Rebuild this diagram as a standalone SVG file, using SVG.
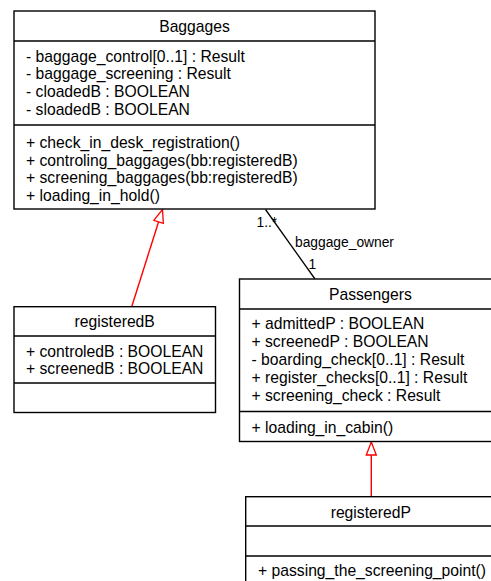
<svg xmlns="http://www.w3.org/2000/svg" width="491" height="581" viewBox="0 0 491 581">
<style>
text{font-family:"Liberation Sans",Arial,sans-serif;font-size:15.7px;fill:#000}
.t{text-anchor:middle}
.lbl{font-size:13.8px}
.box{fill:#fff;stroke:#000;stroke-width:1.4}
.sep{stroke:#000;stroke-width:1.4}
.assoc{stroke:#000;stroke-width:1.3;fill:none}
.gen{stroke:#f00;stroke-width:1.4;fill:none}
</style>
<defs>
<marker id="tri" markerUnits="userSpaceOnUse" viewBox="-1 -1 15 12" refX="13" refY="5" markerWidth="15" markerHeight="12" orient="auto">
<path d="M0,0 L13,5 L0,10 Z" fill="#fff" stroke="#f00" stroke-width="1.3"/>
</marker>
</defs>
<rect width="491" height="581" fill="#fff"/>
<g id="connectors">
<line class="assoc" x1="265.5" y1="209.5" x2="315" y2="279"/>
<text class="lbl" x="256.5" y="227">1..*</text>
<text class="lbl" x="295" y="247">baggage_owner</text>
<text class="lbl" x="308.5" y="268.5">1</text>
<line class="gen" x1="131.7" y1="306.7" x2="162.5" y2="209.5" marker-end="url(#tri)"/>
<line class="gen" x1="371.3" y1="496.7" x2="371.3" y2="442" marker-end="url(#tri)"/>
</g>
<g id="Baggages">
<rect class="box" x="14" y="11" width="361" height="198"/>
<line class="sep" x1="14" y1="41" x2="375" y2="41"/>
<line class="sep" x1="14" y1="125" x2="375" y2="125"/>
<text class="t" x="194.5" y="32">Baggages</text>
<text x="26" y="61.5">- baggage_control[0..1] : Result</text>
<text x="26" y="79.2">- baggage_screening : Result</text>
<text x="26" y="96.9">- cloadedB : BOOLEAN</text>
<text x="26" y="114.6">- sloadedB : BOOLEAN</text>
<text x="26" y="148">+ check_in_desk_registration()</text>
<text x="26" y="165.7">+ controling_baggages(bb:registeredB)</text>
<text x="26" y="183.4">+ screening_baggages(bb:registeredB)</text>
<text x="26" y="201">+ loading_in_hold()</text>
</g>
<g id="Passengers">
<rect class="box" x="239.5" y="279" width="262" height="162.5"/>
<line class="sep" x1="239.5" y1="309" x2="501.5" y2="309"/>
<line class="sep" x1="239.5" y1="411.5" x2="501.5" y2="411.5"/>
<text class="t" x="370.4" y="300">Passengers</text>
<text x="251.5" y="329.3">+ admittedP : BOOLEAN</text>
<text x="251.5" y="347.1">+ screenedP : BOOLEAN</text>
<text x="251.5" y="364.9">- boarding_check[0..1] : Result</text>
<text x="251.5" y="382.7">+ register_checks[0..1] : Result</text>
<text x="251.5" y="400.5">+ screening_check : Result</text>
<text x="251.5" y="433">+ loading_in_cabin()</text>
</g>
<g id="registeredB">
<rect class="box" x="14" y="306.7" width="201.5" height="105.8"/>
<line class="sep" x1="14" y1="336" x2="215.5" y2="336"/>
<line class="sep" x1="14" y1="383" x2="215.5" y2="383"/>
<text class="t" x="114.7" y="326.7">registeredB</text>
<text x="26" y="356.7">+ controledB : BOOLEAN</text>
<text x="26" y="374.3">+ screenedB : BOOLEAN</text>
</g>
<g id="registeredP">
<rect class="box" x="245.7" y="496.7" width="250.3" height="100"/>
<line class="sep" x1="245.7" y1="526" x2="496" y2="526"/>
<line class="sep" x1="245.7" y1="556" x2="496" y2="556"/>
<text class="t" x="370.8" y="518.3">registeredP</text>
<text x="258" y="575.5">+ passing_the_screening_point()</text>
</g>
</svg>
